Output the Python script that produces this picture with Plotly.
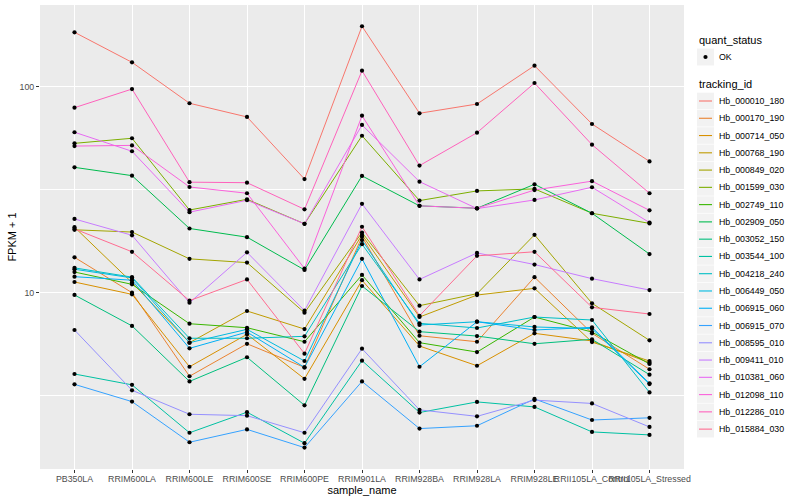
import plotly.graph_objects as go

# ---------------- data ----------------
samples = ["PB350LA", "RRIM600LA", "RRIM600LE", "RRIM600SE", "RRIM600PE",
           "RRIM901LA", "RRIM928BA", "RRIM928LA", "RRIM928LE",
           "RRII105LA_Control", "RRII105LA_Stressed"]

tracking_ids = ["Hb_000010_180", "Hb_000170_190", "Hb_000714_050", "Hb_000768_190",
                "Hb_000849_020", "Hb_001599_030", "Hb_002749_110", "Hb_002909_050",
                "Hb_003052_150", "Hb_003544_100", "Hb_004218_240", "Hb_006449_050",
                "Hb_006915_060", "Hb_006915_070", "Hb_008595_010", "Hb_009411_010",
                "Hb_010381_060", "Hb_012098_110", "Hb_012286_010", "Hb_015884_030"]

colors = ["#F8766D", "#EA8331", "#D89000", "#C09B00", "#A3A500", "#7CAE00",
          "#39B600", "#00BB4E", "#00BF7D", "#00C1A3", "#00BFC4", "#00BAE0",
          "#00B0F6", "#35A2FF", "#9590FF", "#C77CFF", "#E76BF3", "#FA62DB",
          "#FF62BC", "#FF6C91"]

# FPKM + 1 per sample (order of `samples`)
hb_000010_180 = [183.7, 131.3, 83.1, 71.3, 35.6, 196.5, 74.3, 82.4, 126.5, 65.9, 43.4]
hb_000170_190 = [14.85, 10.0, 3.93, 5.65, 4.34, 18.7, 6.18, 5.78, 11.9, 6.35, 4.25]
hb_000714_050 = [11.27, 9.82, 4.37, 6.28, 3.82, 11.5, 5.51, 4.42, 6.35, 5.83, 4.57]
hb_000768_190 = [20.8, 11.2, 5.72, 8.15, 6.66, 19.1, 7.62, 9.74, 10.5, 5.76, 4.66]
hb_000849_020 = [20.2, 19.7, 14.6, 14.0, 8.0, 19.6, 8.65, 9.89, 19.1, 8.88, 5.87]
hb_001599_030 = [53.1, 56.2, 25.2, 28.4, 21.6, 57.8, 28.0, 31.2, 31.9, 24.3, 21.7]
hb_002749_110 = [12.6, 10.98, 7.07, 6.76, 5.78, 12.2, 5.72, 5.15, 7.62, 6.44, 4.51]
hb_002909_050 = [40.6, 37.0, 20.5, 18.6, 12.9, 36.9, 26.4, 25.7, 33.6, 24.3, 15.4]
hb_003052_150 = [9.75, 6.90, 3.71, 4.86, 2.84, 10.78, 6.47, 6.16, 5.65, 5.94, 4.00]
hb_003544_100 = [4.03, 3.57, 2.09, 2.63, 1.86, 4.68, 2.62, 2.95, 2.79, 2.11, 2.04]
hb_004218_240 = [13.2, 11.9, 6.01, 6.01, 6.14, 17.2, 7.10, 6.74, 7.62, 7.37, 3.28]
hb_006449_050 = [13.0, 11.8, 5.72, 6.64, 4.66, 18.0, 6.97, 7.23, 6.82, 6.69, 3.60]
hb_006915_060 = [11.96, 11.5, 5.37, 6.44, 4.34, 14.6, 4.37, 7.23, 6.59, 6.79, 3.63]
hb_006915_070 = [3.59, 2.96, 1.88, 2.17, 1.77, 3.71, 2.19, 2.26, 3.05, 2.41, 2.47]
hb_008595_010 = [6.59, 3.36, 2.57, 2.53, 2.09, 5.35, 2.70, 2.51, 3.01, 2.90, 2.23]
hb_009411_010 = [22.8, 19.0, 8.94, 15.7, 8.18, 27.0, 11.6, 15.6, 13.7, 11.7, 10.3]
hb_010381_060 = [60.1, 48.6, 24.6, 28.1, 21.6, 65.2, 34.6, 25.6, 28.2, 32.5, 21.9]
hb_012098_110 = [51.5, 51.9, 32.6, 30.4, 13.1, 72.3, 26.4, 25.7, 31.5, 34.8, 25.1]
hb_012286_010 = [79.1, 97.4, 34.4, 34.2, 25.4, 119.6, 41.4, 59.8, 104.2, 52.3, 30.4]
hb_015884_030 = [20.4, 15.8, 9.15, 11.6, 5.06, 20.9, 7.73, 15.1, 15.8, 8.49, 7.88]

series = [hb_000010_180, hb_000170_190, hb_000714_050, hb_000768_190, hb_000849_020,
          hb_001599_030, hb_002749_110, hb_002909_050, hb_003052_150, hb_003544_100,
          hb_004218_240, hb_006449_050, hb_006915_060, hb_006915_070, hb_008595_010,
          hb_009411_010, hb_010381_060, hb_012098_110, hb_012286_010, hb_015884_030]

quant_status = ["OK"]

# ---------------- figure ----------------
W, H = 800, 500
ML, MR, MT, MB = 40, 116, 5, 31
PW, PH = W - ML - MR, H - MT - MB
FONT = "Liberation Sans, Arial, Helvetica, sans-serif"

fig = go.Figure()
for tid, col, vals in zip(tracking_ids, colors, series):
    fig.add_trace(go.Scatter(x=samples, y=vals, mode="lines", name=tid,
                             line=dict(color=col, width=1.0), showlegend=False,
                             hoverinfo="x+y+name"))

all_x, all_y = [], []
for vals in series:
    all_x += samples
    all_y += vals
fig.add_trace(go.Scatter(x=all_x, y=all_y, mode="markers", name=quant_status[0],
                         marker=dict(color="black", size=4.2, symbol="circle"),
                         showlegend=False))

# ---- legend drawn as guide (ggplot style) ----
def px(xp):
    return (xp - ML) / PW

def py(yp):
    return (H - MB - yp) / PH

shapes = []
annotations = []

key_l, key_r = 697, 714
annotations.append(dict(x=px(697), y=py(40), xref="paper", yref="paper", text="quant_status",
                        showarrow=False, xanchor="left", yanchor="middle",
                        font=dict(size=11, color="black", family=FONT)))
ok_y = 57
shapes.append(dict(type="rect", xref="paper", yref="paper", x0=px(key_l), x1=px(key_r),
                   y0=py(ok_y - 8.5), y1=py(ok_y + 8.5), fillcolor="#F2F2F2", line=dict(width=0),
                   layer="below"))
r = 2.1
shapes.append(dict(type="circle", xref="paper", yref="paper", x0=px(705.5 - r), x1=px(705.5 + r),
                   y0=py(ok_y - r), y1=py(ok_y + r), fillcolor="black", line=dict(width=0)))
annotations.append(dict(x=px(717), y=py(ok_y), xref="paper", yref="paper", text=quant_status[0],
                        showarrow=False, xanchor="left", yanchor="middle",
                        font=dict(size=8.8, color="black", family=FONT)))

annotations.append(dict(x=px(697), y=py(84), xref="paper", yref="paper", text="tracking_id",
                        showarrow=False, xanchor="left", yanchor="middle",
                        font=dict(size=11, color="black", family=FONT)))
y0 = 101
step = 17.27
for i, (tid, col) in enumerate(zip(tracking_ids, colors)):
    yc = y0 + i * step
    shapes.append(dict(type="rect", xref="paper", yref="paper", x0=px(key_l), x1=px(key_r),
                       y0=py(yc - 8.3), y1=py(yc + 8.3), fillcolor="#F2F2F2", line=dict(width=0),
                       layer="below"))
    shapes.append(dict(type="line", xref="paper", yref="paper", x0=px(699), x1=px(712),
                       y0=py(yc), y1=py(yc), line=dict(color=col, width=1.1)))
    annotations.append(dict(x=px(717), y=py(yc), xref="paper", yref="paper", text=tid,
                            showarrow=False, xanchor="left", yanchor="middle",
                            font=dict(size=8.8, color="black", family=FONT)))

fig.update_layout(
    width=W, height=H, autosize=False,
    margin=dict(l=ML, r=MR, t=MT, b=MB, pad=0),
    paper_bgcolor="white", plot_bgcolor="#EBEBEB",
    font=dict(family=FONT, size=11, color="black"),
    showlegend=False,
    shapes=shapes, annotations=annotations,
    xaxis=dict(
        type="category", categoryorder="array", categoryarray=samples,
        range=[-0.6, 10.6], showgrid=True, gridcolor="white", gridwidth=1.1,
        zeroline=False, showline=False, tickangle=0,
        ticks="outside", ticklen=3, tickwidth=1, tickcolor="#333333",
        ticklabelstandoff=-2,
        tickfont=dict(size=8.8, color="#4D4D4D", family=FONT),
        title=dict(text="sample_name", font=dict(size=11, color="black", family=FONT), standoff=0),
        automargin=False,
    ),
    yaxis=dict(
        type="log", range=[0.1442, 2.3966],
        tickvals=[10, 100], ticktext=["10", "100"],
        showgrid=True, gridcolor="white", gridwidth=1.1,
        minor=dict(tickvals=[10 ** 0.5, 10 ** 1.5], showgrid=True, gridcolor="white",
                   gridwidth=0.55, ticklen=0),
        zeroline=False, showline=False,
        ticks="outside", ticklen=3, tickwidth=1, tickcolor="#333333",
        tickfont=dict(size=8.8, color="#4D4D4D", family=FONT),
        title=dict(text="FPKM + 1", font=dict(size=11, color="black", family=FONT), standoff=0),
        automargin=False,
    ),
)

fig.write_html("out.html", config={"displayModeBar": False},
               post_script="document.body.style.margin='0';document.body.style.overflow='hidden';")
